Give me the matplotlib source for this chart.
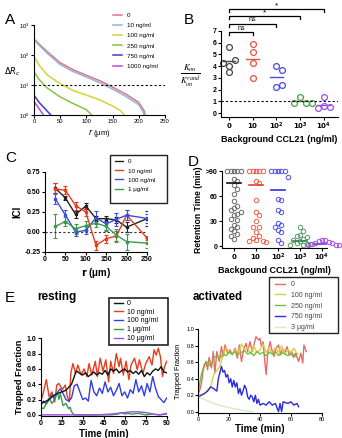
import numpy as np
import matplotlib
matplotlib.use('Agg')
import matplotlib.pyplot as plt
from matplotlib.patches import Rectangle
from matplotlib.lines import Line2D

plt.rcParams['font.family'] = ['Liberation Sans', 'DejaVu Sans']
plt.rcParams['axes.linewidth'] = 0.8
plt.rcParams['xtick.major.width'] = 0.8
plt.rcParams['ytick.major.width'] = 0.8

# ---- data: panel A (radial profiles) ----
a_labels = ['0', '10 ng/ml', '100 ng/ml', '250 ng/ml', '750 ng/ml', '1000 ng/ml']
a_r = [[0, 10, 25, 50, 75, 100, 125, 150, 175, 200, 210, 212],
       [0, 10, 25, 50, 75, 100, 125, 150, 175, 200, 208, 210],
       [0, 10, 25, 50, 75, 100, 125, 150, 165, 172],
       [0, 10, 25, 50, 75, 100, 110],
       [0, 10, 20, 32],
       [0, 8, 18]]
a_dr = [[340, 230, 130, 55, 32, 21, 14, 8.5, 5, 2.6, 1.4, 1],
        [320, 210, 115, 48, 28, 18.5, 12, 7.3, 4.2, 2.2, 1.3, 1],
        [90, 45, 22, 11, 6.5, 4.6, 3.2, 2.0, 1.4, 1],
        [28, 15, 8, 4, 2.4, 1.5, 1],
        [4.6, 2.6, 1.7, 1],
        [2.8, 1.8, 1]]

# ---- panel B ----
b_cats = [r'$\mathbf{0}$', r'$\mathbf{10}$', r'$\mathbf{10^2}$', r'$\mathbf{10^3}$', r'$\mathbf{10^4}$']
b_vals = [[5.67, 4.05, 3.54, 4.53, 4.25],
          [5.86, 5.18, 4.3, 2.97],
          [4.05, 3.68, 2.2, 2.4],
          [1.36, 0.9, 0.9, 0.9],
          [1.36, 0.62, 0.5, 0.42]]
b_sig = [(1, 6.9, 'ns'), (2, 7.6, 'ns'), (3, 8.27, '*'), (4, 8.9, '*')]

# ---- panel C ----
c_r = [25, 50, 75, 100, 125, 150, 175, 200, 250]
c_labels = ['0', '10 ng/ml', '100 ng/ml', '1 μg/ml']
c_ici = [[0.55, 0.425, 0.22, 0.325, 0.167, 0.167, 0.15, 0.06, 0.167],
         [0.54, 0.52, 0.33, 0.25, -0.167, -0.083, -0.05, 0.21, -0.075],
         [0.417, 0.21, 0.0, 0.02, 0.18, 0.1, 0.16, 0.21, 0.17],
         [0.07, 0.13, 0.04, 0.08, 0.11, 0.07, -0.04, -0.12, -0.14]]
c_err = [[0.06, 0.03, 0.04, 0.04, 0.03, 0.03, 0.04, 0.06, 0.09],
         [0.07, 0.05, 0.05, 0.05, 0.06, 0.05, 0.06, 0.06, 0.02],
         [0.07, 0.07, 0.05, 0.05, 0.08, 0.08, 0.08, 0.06, 0.06],
         [0.15, 0.06, 0.06, 0.06, 0.05, 0.06, 0.08, 0.1, 0.06]]

# ---- panel D ----
d_vals = [[90] * 5 + [81, 78, 73, 69, 62, 54, 48, 46, 43, 41, 39, 37, 33, 31, 26, 23, 21, 18, 15, 12, 9],
          [90] * 5 + [78, 76, 55, 41, 37, 30, 23, 23, 17, 12, 10, 8, 6, 6, 5],
          [90] * 5 + [83, 57, 55, 43, 41, 28, 26, 23, 20, 17, 8, 4],
          [23, 18, 14, 12, 11, 9, 7, 6, 4, 3, 3, 1, 1],
          [8, 7, 6, 5, 4, 4, 3, 2, 2, 1]]
d_means = [76, 73.4, 67, 6, 3]

# ---- panel E resting ----
rest_labels = ['0', '10 ng/ml', '100 ng/ml', '1 μg/ml', '10 μg/ml']
rest_t0 = [0, 3, 6, 9, 12, 15, 18, 20, 22, 24, 25, 26, 28, 30, 32, 34, 36, 38, 40, 42, 44, 46,
           48, 50, 52, 54, 56, 58, 60, 62, 64, 66, 68, 70, 72, 74, 76, 78, 80, 82, 84, 86, 88, 90]
rest_y0 = [0.15, 0.17, 0.2, 0.25, 0.28, 0.3, 0.32, 0.36, 0.4, 0.5, 0.56, 0.57, 0.54, 0.52, 0.55,
           0.5, 0.53, 0.56, 0.52, 0.55, 0.53, 0.58, 0.52, 0.6, 0.57, 0.6, 0.55, 0.58, 0.6, 0.56,
           0.58, 0.54, 0.57, 0.53, 0.58, 0.5, 0.55, 0.52, 0.57, 0.6, 0.58, 0.63, 0.56, 0.55]
rest_t10 = [0, 2, 4, 6, 8, 10, 11.5, 13, 15.5, 17.5, 19, 20.5, 21.5, 23, 25, 26.5, 29, 31, 33,
            34.5, 36.5, 39, 40.5, 42.5, 44.5, 46.5, 48.5, 50, 52, 54, 56, 57, 59, 61, 63, 64.5,
            67, 69, 70.5, 73, 75, 77.5, 79.5, 81, 82.5, 84, 85.5, 87, 88.5, 90]
rest_y10 = [0.17, 0.3, 0.46, 0.24, 0.3, 0.17, 0.39, 0.41, 0.33, 0.39, 0.24, 0.17, 0.54, 0.67,
            0.54, 0.65, 0.52, 0.6, 0.5, 0.67, 0.52, 0.7, 0.5, 0.74, 0.57, 0.72, 0.43, 0.7, 0.54,
            0.8, 0.63, 0.74, 0.52, 0.7, 0.46, 0.65, 0.74, 0.59, 0.72, 0.54, 0.67, 0.76, 0.65,
            0.85, 0.78, 0.87, 0.76, 0.5, 0.63, 0.7]
rest_t100 = [0, 2, 4, 6, 8, 10, 12, 14, 16, 18, 20, 22, 24, 26, 28, 30, 32, 34, 36, 38, 40, 42,
             44, 46, 48, 50, 52, 54, 56, 58, 60, 62, 64, 66, 68, 70, 72, 74, 76, 78, 80, 82, 84,
             86, 88, 90]
rest_y100 = [0.12, 0.18, 0.14, 0.2, 0.26, 0.22, 0.3, 0.34, 0.28, 0.2, 0.18, 0.22, 0.38, 0.4,
             0.3, 0.2, 0.22, 0.18, 0.45, 0.3, 0.25, 0.35, 0.28, 0.43, 0.3, 0.36, 0.25, 0.32,
             0.41, 0.25, 0.3, 0.22, 0.33, 0.28, 0.46, 0.3, 0.38, 0.25, 0.41, 0.3, 0.5, 0.35,
             0.24, 0.2, 0.16, 0.22]
rest_t1u = [0, 2, 4, 6, 8, 10, 12, 13, 14, 16, 18, 20, 21, 22, 23, 24, 30, 40, 50, 55, 58, 60,
            62, 65, 70, 75, 80, 85, 90]
rest_y1u = [0.1, 0.08, 0.15, 0.22, 0.15, 0.2, 0.3, 0.2, 0.28, 0.12, 0.15, 0.08, 0.1, 0.04,
            0.02, 0.0, 0.0, 0.0, 0.0, 0.01, 0.03, 0.01, 0.02, 0.01, 0.02, 0.0, 0.01, 0.0, 0.02]
rest_t10u = [0, 10, 20, 30, 40, 50, 55, 60, 65, 70, 75, 78, 80, 85, 90]
rest_y10u = [0.0, 0.0, 0.0, 0.0, 0.0, 0.01, 0.02, 0.03, 0.04, 0.04, 0.03, 0.02, 0.01, 0.0, 0.01]

# ---- panel E activated ----
act_labels = ['0', '100 ng/ml', '250 ng/ml', '750 ng/ml', '3 μg/ml']
act_t0 = [0.6, 2, 3.2, 5, 6, 7, 8.6, 9.7, 10.8, 12, 13.6, 15, 16.2, 17.3, 19, 20.5, 22, 23.8,
          25.3, 26.6, 28, 29.6, 31, 32, 33.5, 35, 36, 37.4, 39, 40, 41, 42, 43, 44, 45, 46.5,
          48, 49, 50.4, 52, 53.4, 54.7, 56, 57.5, 59, 60.5, 61.6, 63, 65, 66.5, 67.7, 68.5, 70]
act_y0 = [0.24, 0.34, 0.51, 0.61, 0.51, 0.66, 0.53, 0.73, 0.47, 0.73, 0.61, 0.79, 0.67, 0.81,
          0.71, 0.75, 0.69, 0.77, 0.65, 0.81, 0.61, 0.77, 0.83, 0.73, 0.85, 0.73, 0.81, 0.91,
          0.87, 0.89, 0.79, 0.85, 0.63, 0.45, 0.71, 0.85, 0.73, 0.67, 0.77, 0.81, 0.69, 0.77,
          0.71, 0.79, 0.69, 0.73, 0.67, 0.71, 0.61, 0.71, 0.59, 0.81, 0.73]
act_t2 = [0, 2, 4, 6, 8, 10, 12, 14, 16, 18, 20, 22, 24, 26, 28, 30, 32, 34, 36, 38, 40, 42,
          44, 46, 48, 50, 52, 54, 56, 58, 60, 62, 64]
act_y100 = [0.2, 0.21, 0.22, 0.26, 0.3, 0.45, 0.5, 0.55, 0.68, 0.78, 0.72, 0.7, 0.75, 0.72,
            0.82, 0.75, 0.78, 0.7, 0.8, 0.72, 0.75, 0.82, 0.72, 0.77, 0.7, 0.78, 0.72, 0.8, 0.7,
            0.75, 0.72, 0.77, 0.7]
act_y250 = [0.25, 0.45, 0.58, 0.6, 0.55, 0.65, 0.68, 0.65, 0.7, 0.68, 0.72, 0.7, 0.73, 0.7,
            0.72, 0.74, 0.7, 0.72, 0.68, 0.73, 0.7, 0.72, 0.68, 0.72, 0.7, 0.73, 0.68, 0.72,
            0.7, 0.68, 0.7, 0.66, 0.7]
act_t750 = [0, 2, 4, 6, 8, 10, 12, 13, 15, 16, 17, 18, 19, 20, 21, 22, 23, 24, 25, 26, 27, 28,
            29, 30, 31, 32, 33, 34, 35, 36, 37, 38, 39, 40, 42, 44, 46, 48, 50, 52, 53, 54, 55,
            58, 60, 62, 64, 65]
act_y750 = [0.18, 0.2, 0.22, 0.25, 0.3, 0.28, 0.25, 0.4, 0.55, 0.48, 0.5, 0.42, 0.45, 0.35,
            0.4, 0.3, 0.38, 0.3, 0.35, 0.22, 0.28, 0.2, 0.25, 0.32, 0.28, 0.18, 0.15, 0.2, 0.18,
            0.12, 0.2, 0.1, 0.15, 0.08, 0.1, 0.08, 0.12, 0.08, 0.1, 0.0, 0.1, 0.0, 0.12, 0.1,
            0.12, 0.08, 0.1, 0.06]
act_t3u = [0, 5, 10, 15, 20, 25, 30, 35]
act_y3u = [0.18, 0.14, 0.1, 0.07, 0.05, 0.03, 0.01, 0.0]

# ---------------- layout helpers ----------------
W, H = 342, 438
fig = plt.figure(figsize=(W / 100, H / 100), dpi=100)


def box(x0, y0, x1, y1):
    return fig.add_axes([x0 / W, 1 - y1 / H, (x1 - x0) / W, (y1 - y0) / H])


def prism(ax, size=5, bold=True):
    for s in ['top', 'right']:
        ax.spines[s].set_visible(False)
    ax.tick_params(direction='out', length=2, pad=1, labelsize=size)
    if bold:
        for lab in ax.get_xticklabels() + ax.get_yticklabels():
            lab.set_fontweight('bold')


def ftext(x, y, s, **kw):
    fig.text(x / W, 1 - y / H, s, **kw)


def frame(x0, y0, x1, y1, lw=1.0):
    fig.add_artist(Rectangle((x0 / W, 1 - y1 / H), (x1 - x0) / W, (y1 - y0) / H,
                             transform=fig.transFigure, fill=False, ec='#222222', lw=lw))


def swarm(vals, ppu, ppc, diam):
    # simple beeswarm: nudge sideways until the circle clears the ones already placed
    placed, offs = [], []
    for v in vals:
        y = v * ppu
        k = 0
        while True:
            m = (k + 1) // 2 * (1 if k % 2 else -1)
            x = m * diam
            if all((x - px) ** 2 + (y - py) ** 2 >= diam ** 2 * 0.99 for px, py in placed):
                break
            k += 1
        placed.append((x, y))
        offs.append(x / ppc)
    return offs


# ---------------- A ----------------
ax = box(34, 25, 165, 115)
a_cols = ['#e8707e', '#8ab8d8', '#d4d436', '#86c448', '#3a3ad0', '#b84ae0']
for r, d, c, l in zip(a_r, a_dr, a_cols, a_labels):
    ax.plot(r, d, color=c, lw=1.1, label=l)
ax.axhline(10, color='black', lw=0.8, ls=(0, (2, 2)))
ax.set_yscale('log')
ax.set_ylim(1, 1000)
ax.set_xlim(0, 250)
ax.set_xticks([0, 50, 100, 150, 200, 250])
ax.minorticks_off()
prism(ax, size=4.2, bold=False)
ax.set_xlabel(r'$r$ (μm)', fontsize=5.5, labelpad=2)
ax.legend(loc='upper left', bbox_to_anchor=(113 / W, 1 - 13 / H), bbox_transform=fig.transFigure,
          frameon=False, fontsize=4.5, handlelength=1.4, handletextpad=0.8, labelspacing=0.75,
          borderpad=0, borderaxespad=0)
ftext(12, 72, r'$\Delta R_c$', fontsize=6, ha='center', va='center')
ftext(5, 20, 'A', fontsize=11, va='center')

# ---------------- B ----------------
ax = box(221, 31, 338, 117)
b_cols = ['#444444', '#e8553f', '#4a4ae8', '#4a9a4a', '#9b4de8']
for i, (vals, c) in enumerate(zip(b_vals, b_cols)):
    offs = swarm(vals, 11.8, 23.75, 6.0)
    ax.plot([i + o for o in offs], vals, 'o', mfc='none', mec=c, ms=4.2, mew=0.9, clip_on=False)
    m = np.mean(vals)
    ax.plot([i - 0.27, i + 0.27], [m, m], color=c, lw=1.0)
ax.axhline(1, color='black', lw=0.8, ls=(0, (2, 2)))
for j, yb, s in b_sig:
    ax.plot([0, 0, j, j], [yb - 0.25, yb, yb, yb - 0.25], color='black', lw=0.9, clip_on=False)
    ax.text(j / 2, yb + (0.05 if s == 'ns' else -0.05), s, ha='center', va='bottom',
            fontsize=5 if s == 'ns' else 6)
ax.set_xlim(-0.34, 4.6)
ax.set_ylim(-0.33, 7)
ax.set_yticks(range(8))
ax.set_xticks(range(5))
ax.set_xticklabels(b_cats)
prism(ax, size=5)
ax.set_xlabel('Background CCL21 (ng/ml)', fontsize=6.5, fontweight='bold', labelpad=2)
ftext(190, 76, r'$\frac{K_{on}}{K_{on}^{rand}}$', fontsize=9, ha='center', va='center',
      math_fontfamily='stix')
ftext(184, 20, 'B', fontsize=11, va='center')

# ---------------- C ----------------
ax = box(45, 172, 147, 252)
c_cols = ['#222222', '#e83c1c', '#3a4de8', '#3c9a4c']
for y, e, c, l in zip(c_ici, c_err, c_cols, c_labels):
    ax.errorbar(c_r, y, yerr=e, color=c, lw=1.0, capsize=1.3, elinewidth=0.8, capthick=0.8,
                marker='s', ms=1.5, label=l)
ax.axhline(0, color='#333333', lw=0.8, ls=(0, (2, 2)))
ax.set_xlim(0, 250)
ax.set_ylim(-0.25, 0.75)
ax.set_xticks([0, 50, 100, 150, 200, 250])
ax.set_yticks([-0.25, 0, 0.25, 0.5, 0.75])
ax.set_yticklabels(['-0.25', '0.00', '0.25', '0.50', '0.75'])
prism(ax, size=5)
ax.set_xlabel(r'$\mathbf{r}$ (μm)', fontsize=7, fontweight='bold', labelpad=2)
ax.set_ylabel('ICI', fontsize=7, fontweight='bold', labelpad=2)
frame(110, 155, 167, 203)
hand = [Line2D([], [], color=c, lw=1.0) for c in c_cols]
ax.legend(hand, c_labels, loc='upper left', bbox_to_anchor=(115 / W, 1 - 159 / H),
          bbox_transform=fig.transFigure, frameon=False, fontsize=4.5, handlelength=1.3,
          handletextpad=0.7, labelspacing=0.6, borderpad=0, borderaxespad=0)
ftext(5, 158, 'C', fontsize=11, va='center')

# ---------------- D ----------------
ax = box(222, 171, 327, 248)
d_cols = ['#6a6a6a', '#e8604a', '#5050e8', '#5a9a6a', '#a050e8']
d_line = ['#111111', '#e8402c', '#3030e0', '#2a8a4a', '#8a30e0']
for i, (vals, c, lc, m) in enumerate(zip(d_vals, d_cols, d_line, d_means)):
    # squash y a bit so nearby values get pushed sideways like the Prism scatter
    offs = swarm(vals, 0.45, 22.0, 3.4)
    ax.plot([i + o for o in offs], vals, 'o', mfc='none', mec=c, ms=3.2, mew=0.7, clip_on=False)
    ax.plot([i - 0.3, i + 0.3], [m, m], color=lc, lw=1.2, zorder=5)
ax.set_xlim(-0.55, 4.23)
ax.set_ylim(-2, 90)
ax.set_yticks([0, 30, 60, 90])
ax.set_yticklabels(['0', '30', '60', '>90'])
ax.set_xticks(range(5))
ax.set_xticklabels(b_cats)
prism(ax, size=5)
ax.set_xlabel('Backgound CCL21 (ng/ml)', fontsize=6.5, fontweight='bold', labelpad=2)
ax.set_ylabel('Retention Time (min)', fontsize=6.2, fontweight='bold', labelpad=2)
ftext(188, 162, 'D', fontsize=11, va='center')

# ---------------- E resting ----------------
ax = box(40.7, 338.3, 166.7, 416)
r_cols = ['#111111', '#e83c1c', '#2f3fe8', '#3c9a4c', '#9b4de8']
rest = [(rest_t0, rest_y0), (rest_t10, rest_y10), (rest_t100, rest_y100),
        (rest_t1u, rest_y1u), (rest_t10u, rest_y10u)]
order = [1, 2, 0, 3, 4]
for k in order:
    t, y = rest[k]
    ax.plot(t, y, color=r_cols[k], lw=1.0, zorder=3 if k == 0 else 2)
ax.set_xlim(0, 90)
ax.set_ylim(-0.015, 1.0)
ax.set_xticks([0, 15, 30, 45, 60, 75, 90])
ax.set_yticks([0, 0.2, 0.4, 0.6, 0.8, 1.0])
ax.set_yticklabels(['0.0', '0.2', '0.4', '0.6', '0.8', '1.0'])
prism(ax, size=5)
ax.set_xlabel('Time (min)', fontsize=7, fontweight='bold', labelpad=1)
ax.set_ylabel('Trapped Fraction', fontsize=6.6, fontweight='bold', labelpad=2)
frame(109, 298, 168, 345, lw=1.2)
hand = [Line2D([], [], color=c, lw=1.0) for c in r_cols]
ax.legend(hand, rest_labels, loc='upper left', bbox_to_anchor=(114 / W, 1 - 300 / H),
          bbox_transform=fig.transFigure, frameon=False, fontsize=5, handlelength=1.3,
          handletextpad=0.6, labelspacing=0.25, borderpad=0, borderaxespad=0)
ftext(5, 298, 'E', fontsize=11, va='center')
ftext(57, 297, 'resting', fontsize=8.5, fontweight='bold', ha='center', va='center')

# ---------------- E activated ----------------
ax = box(198.3, 329.3, 321.7, 412.5)
a2_cols = ['#e86a6a', '#d8d040', '#70c040', '#2a2ae0', '#d4eec0']
act = [(act_t0, act_y0), (act_t2, act_y100), (act_t2, act_y250), (act_t750, act_y750),
       (act_t3u, act_y3u)]
for (t, y), c in zip(act, a2_cols):
    ax.plot(t, y, color=c, lw=1.0)
ax.set_xlim(0, 80)
ax.set_ylim(-0.01, 1.0)
ax.set_xticks([0, 20, 40, 60, 80])
ax.set_yticks([0, 0.2, 0.4, 0.6, 0.8, 1.0])
ax.set_yticklabels(['0.0', '0.2', '0.4', '0.6', '0.8', '1.0'])
prism(ax, size=4, bold=False)
ax.set_xlabel('Time (min)', fontsize=7, fontweight='bold', labelpad=2)
ax.set_ylabel('Trapped Fraction', fontsize=5.3, labelpad=3)
frame(269, 277, 338, 333, lw=1.0)
hand = [Line2D([], [], color=c, lw=1.0) for c in a2_cols]
ax.legend(hand, act_labels, loc='upper left', bbox_to_anchor=(275 / W, 1 - 281 / H),
          bbox_transform=fig.transFigure, frameon=False, fontsize=5, handlelength=1.5,
          handletextpad=0.8, labelspacing=0.55, borderpad=0, borderaxespad=0,
          labelcolor='#444444')
ftext(218, 297, 'activated', fontsize=8.3, fontweight='bold', ha='center', va='center')

fig.savefig('out.png', dpi=100)
